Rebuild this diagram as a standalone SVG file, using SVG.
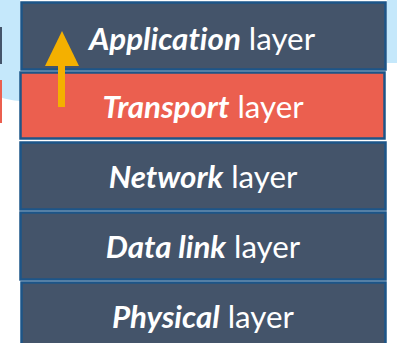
<svg xmlns="http://www.w3.org/2000/svg" width="397" height="343" viewBox="0 0 397 343">
<style>
.box{stroke:#1D5588;stroke-width:2.5}
.dark{fill:#44546A}
.red{fill:#EB5F4F}
.t{font-family:Lato,"Noto Sans",sans-serif;font-size:31.3px;fill:#FFFFFF;text-anchor:middle;font-variant-ligatures:none;font-feature-settings:"liga" 0,"dlig" 0}
.b{font-weight:bold;font-style:italic}
</style>
<rect width="397" height="343" fill="#FFFFFF"/>
<path d="M0 0 H20 V101 Q8 100 0 97 Z" fill="#C5E8FB"/>
<rect x="387" y="0" width="10" height="63" fill="#C5E8FB"/>
<rect x="0" y="27" width="2" height="37" fill="#44546A"/>
<rect x="0" y="80" width="2" height="43" fill="#EB5F4F"/>
<g id="application">
<rect class="box dark" x="21.5" y="2.5" width="364" height="67"/>
<text class="t" x="202" y="50"><tspan class="b">Application</tspan> layer</text>
</g>
<g id="transport">
<rect class="box red" x="20.5" y="72.5" width="364" height="66"/>
<text class="t" x="203" y="118"><tspan class="b">Transport</tspan> layer</text>
</g>
<g id="network">
<rect class="box dark" x="20.5" y="142.5" width="365" height="67"/>
<text class="t" x="203" y="188"><tspan class="b">Network</tspan> layer</text>
</g>
<g id="datalink">
<rect class="box dark" x="20.5" y="212.5" width="365" height="67"/>
<text class="t" x="203" y="258"><tspan class="b">Data link</tspan> layer</text>
</g>
<g id="physical">
<rect class="box dark" x="21.5" y="282.5" width="364" height="64"/>
<text class="t" x="203" y="328"><tspan class="b">Physical</tspan> layer</text>
</g>
<g id="connectors">
<rect x="58" y="64" width="7" height="43" fill="#F4B000"/>
<polygon points="62,31 45,66 79,66" fill="#F4B000"/>
</g>
</svg>
